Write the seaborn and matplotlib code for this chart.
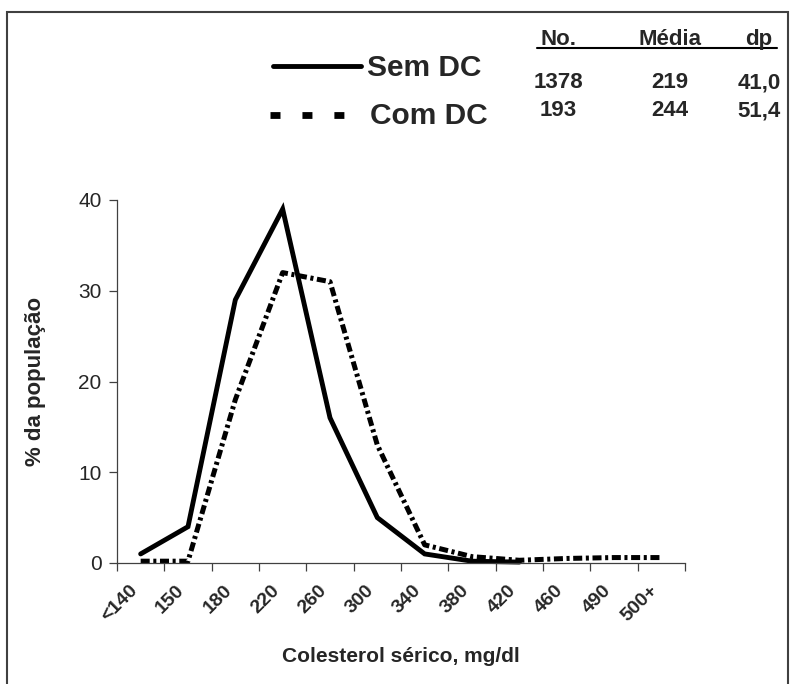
import matplotlib
matplotlib.use("Agg")
import numpy as np
import pandas as pd
import seaborn as sns
import matplotlib.pyplot as plt
from matplotlib.lines import Line2D
from matplotlib.patches import Rectangle
import matplotlib.transforms as mtransforms

# ---------------- data ----------------
categories = ['<140', '150', '180', '220', '260', '300', '340', '380', '420', '460', '490', '500+']
sem_dc = [1, 4, 29, 39, 16, 5, 1, 0.2, 0.1]
com_dc = [0.2, 0.2, 18, 32, 31, 13, 2, 0.7, 0.3, 0.5, 0.6, 0.6]
y_ticks = [0, 10, 20, 30, 40]
series_names = ['Sem DC', 'Com DC']
table_header = ['No.', 'Média', 'dp']
table_rows = [['1378', '219', '41,0'], ['193', '244', '51,4']]
x_label = 'Colesterol sérico, mg/dl'
y_label = '% da população'

# ---------------- style ----------------
sns.set_style('white')
plt.rcParams['font.family'] = ['Liberation Sans', 'DejaVu Sans']
plt.rcParams['lines.scale_dashes'] = False

W, H = 790, 684
fig = plt.figure(figsize=(W / 100, H / 100), dpi=100)


def fx(px):
    return px / W


def fy(py):
    return 1 - py / H


ax = fig.add_axes([fx(117), fy(563), (685 - 117) / W, (563 - 200) / H])

df_sem = pd.DataFrame({'pos': np.arange(len(sem_dc)), 'pct': sem_dc})
df_com = pd.DataFrame({'pos': np.arange(len(com_dc)), 'pct': com_dc})

sns.lineplot(data=df_sem, x='pos', y='pct', ax=ax, color='black', lw=3.5,
             solid_joinstyle='miter', clip_on=False)
sns.lineplot(data=df_com, x='pos', y='pct', ax=ax, color='black', lw=3.6,
             linestyle=(0, (6.5, 2.6, 2.2, 2.6)), clip_on=False)

ax.set_xlim(-0.5, len(categories) - 0.5)
ax.set_ylim(0, 40)

# spines
for s in ['top', 'right']:
    ax.spines[s].set_visible(False)
for s in ['left', 'bottom']:
    ax.spines[s].set_color('#404040')
    ax.spines[s].set_linewidth(0.9)

# x ticks: marks at category boundaries, labels at centres
ax.set_xticks(np.arange(-0.5, len(categories), 1.0))
ax.set_xticklabels([])
ax.set_xticks(np.arange(len(categories)), minor=True)
ax.set_xticklabels(categories, minor=True, rotation=45, ha='right', va='center',
                   rotation_mode='anchor', fontweight='bold', fontsize=14)
ax.tick_params(axis='x', which='major', length=6, width=0.9, color='#404040',
               direction='out', bottom=True)
ax.tick_params(axis='x', which='minor', length=0, pad=18, labelbottom=True, bottom=True)
offset = mtransforms.ScaledTranslation(-6 / 100, 0, fig.dpi_scale_trans)
for lab in ax.get_xticklabels(minor=True):
    lab.set_transform(lab.get_transform() + offset)

ax.set_yticks(y_ticks)
ax.set_yticklabels([str(v) for v in y_ticks], fontsize=15)
ax.tick_params(axis='y', length=6, width=0.9, color='#404040', direction='out',
               left=True, pad=5)

ax.set_xlabel('')
ax.set_ylabel(y_label, fontweight='bold', fontsize=16)
ax.yaxis.set_label_coords((46 - 117) / 568, 0.5)

fig.text(fx(401), fy(657), x_label, ha='center', va='center',
         fontsize=15, fontweight='bold')

# ---------------- legend (drawn by hand) ----------------
fig.add_artist(Line2D([fx(273), fx(361)], [fy(66), fy(66)], color='black', lw=3.5,
                      transform=fig.transFigure))
fig.add_artist(Line2D([fx(270), fx(344)], [fy(115), fy(115)], color='black', lw=4.9,
                      linestyle=(0, (7.2, 15.8)), transform=fig.transFigure))
fig.text(fx(367), fy(76), series_names[0], ha='left', va='baseline',
         fontsize=21.5, fontweight='bold')
fig.text(fx(370), fy(124), series_names[1], ha='left', va='baseline',
         fontsize=21.5, fontweight='bold')

# ---------------- table ----------------
col_x = [558, 670, 759]
for cx, t in zip(col_x, table_header):
    fig.text(fx(cx), fy(45), t, ha='center', va='baseline', fontsize=16,
             fontweight='bold')
fig.add_artist(Line2D([fx(537), fx(777)], [fy(47.5), fy(47.5)], color='black', lw=1.5,
                      transform=fig.transFigure))
for row, base in zip(table_rows, [88.5, 116.5]):
    for cx, t in zip(col_x, row):
        fig.text(fx(cx), fy(base), t, ha='center', va='baseline', fontsize=16,
                 fontweight='bold')

# ---------------- outer frame ----------------
fig.add_artist(Rectangle((fx(7), fy(720)), (788 - 7) / W, (720 - 12) / H,
                         transform=fig.transFigure, fill=False, lw=1.5,
                         ec='#404040', clip_on=False))

fig.savefig('out.png', dpi=100)
